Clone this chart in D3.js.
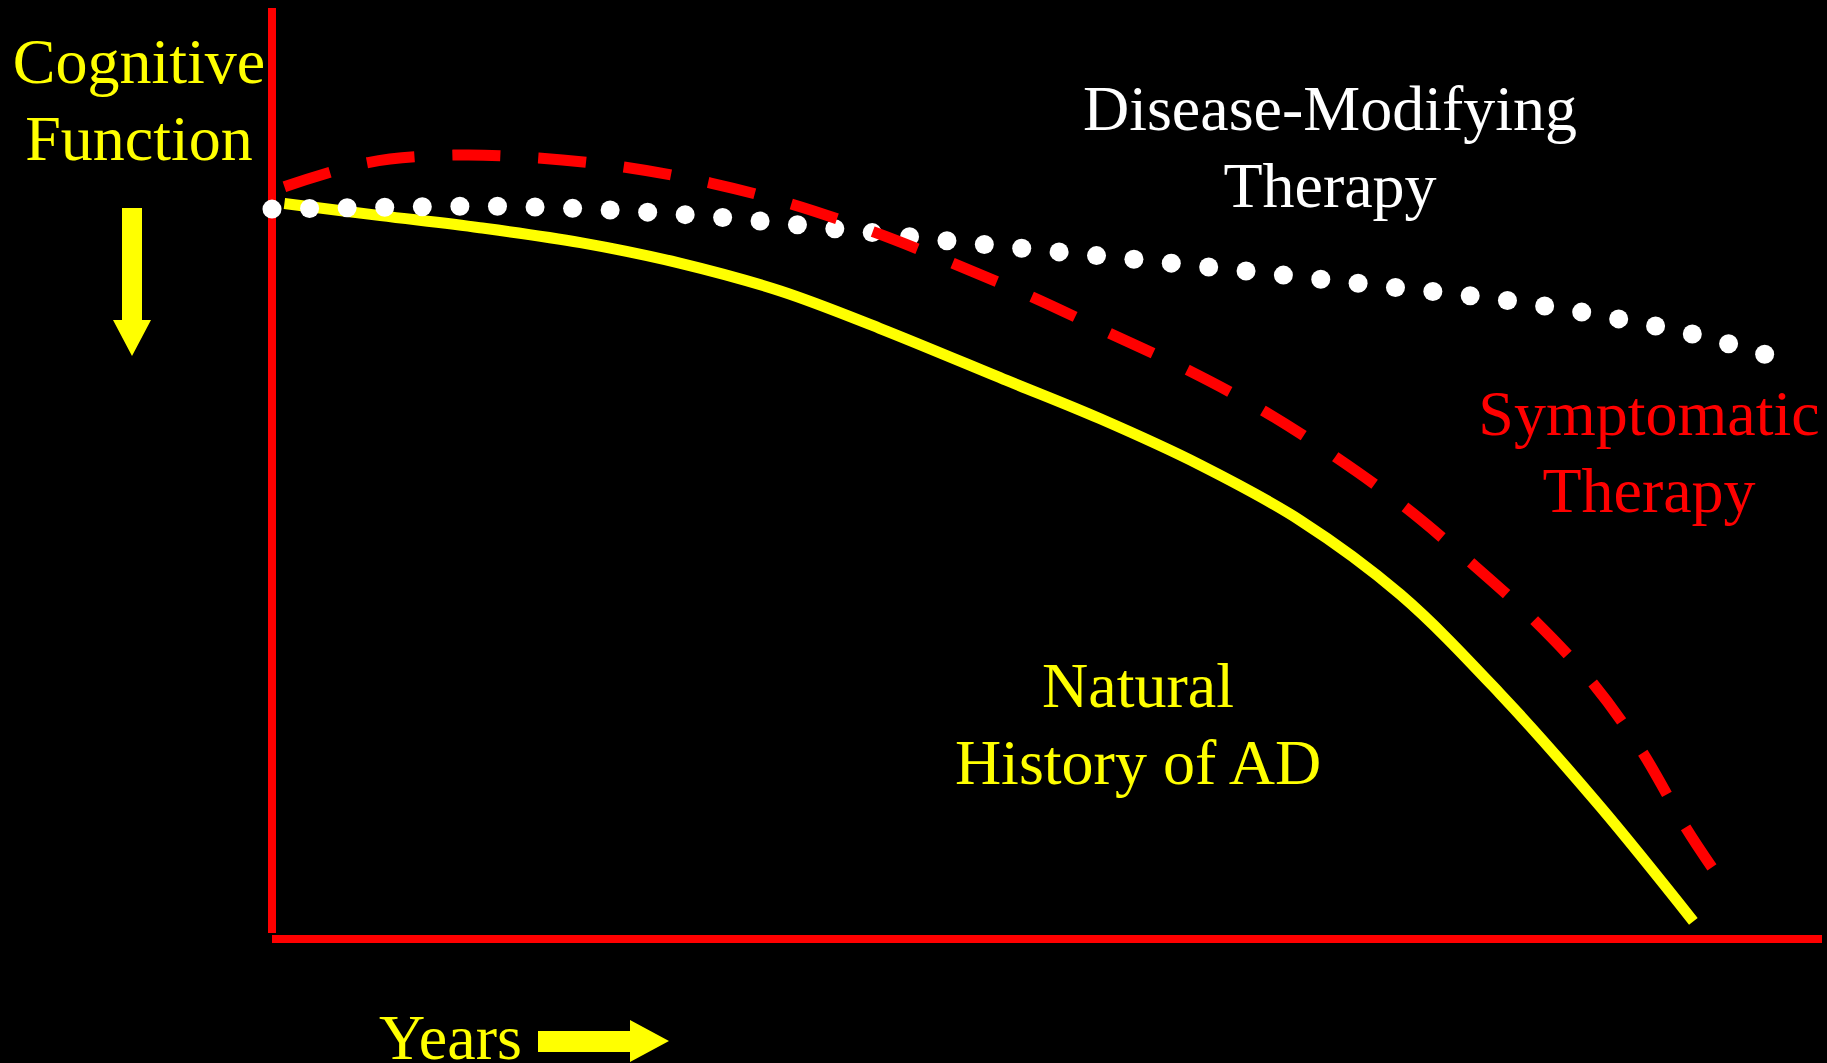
<!DOCTYPE html>
<html>
<head>
<meta charset="utf-8">
<script src="https://cdn.jsdelivr.net/npm/d3@7"></script>
<style>
  html, body { margin: 0; padding: 0; background: #000; overflow: hidden; }
  svg { display: block; }
  text { font-family: "Times New Roman", "Liberation Serif", serif; font-size: 64px; }
</style>
</head>
<body>
<svg width="1827" height="1063"></svg>
<script>
// time axis in arbitrary units (0..100), cognitive function 0..100
var naturalYears = [0.8, 7.0, 13.4, 19.9, 26.3, 32.8, 39.2, 47.4, 53.4, 59.9, 66.3, 72.8, 79.2, 85.7, 91.7];
var naturalScore = [79.0, 77.7, 76.4, 74.8, 72.6, 69.6, 65.6, 60.0, 55.9, 50.9, 45.0, 37.0, 26.4, 14.2, 1.9];

var symptomYears = [0.8, 6.2, 11.7, 17.2, 22.8, 28.3, 33.6, 38.9, 43.9, 49.0, 54.0, 59.1, 63.9, 68.6, 73.1, 77.3, 81.4, 85.2, 88.4, 91.2, 92.9];
var symptomScore = [80.8, 83.4, 84.2, 83.9, 82.9, 81.2, 78.9, 75.9, 72.6, 69.0, 65.1, 61.1, 56.8, 51.8, 46.4, 40.5, 34.3, 27.5, 20.1, 12.0, 7.7];

var modifyYears = [0.0, 7.2, 14.5, 21.8, 29.0, 36.3, 43.6, 50.8, 58.0, 65.3, 72.4, 77.3, 82.1, 86.9, 91.6, 96.3];
var modifyScore = [78.4, 78.6, 78.7, 78.3, 77.5, 76.3, 75.0, 73.8, 72.6, 71.3, 70.0, 69.1, 68.0, 66.6, 65.0, 62.8];
var modifyDots = 41;

var svg = d3.select("svg");
var x = d3.scaleLinear().domain([0, 100]).range([272, 1822]);
var y = d3.scaleLinear().domain([0, 100]).range([939, 8]);

function zip(xs, ys) { return xs.map(function(v, i) { return [v, ys[i]]; }); }

var line = d3.line()
  .x(function(d) { return x(d[0]); })
  .y(function(d) { return y(d[1]); })
  .curve(d3.curveCatmullRom.alpha(0.5));

// axes
svg.append("line")
  .attr("x1", x(0)).attr("x2", x(0))
  .attr("y1", y(100)).attr("y2", y(0) - 6)
  .attr("stroke", "#ff0000").attr("stroke-width", 8);
svg.append("line")
  .attr("x1", x(0)).attr("x2", x(100))
  .attr("y1", y(0)).attr("y2", y(0))
  .attr("stroke", "#ff0000").attr("stroke-width", 8);

// natural history
svg.append("path")
  .attr("d", line(zip(naturalYears, naturalScore)))
  .attr("fill", "none")
  .attr("stroke", "#ffff00")
  .attr("stroke-width", 11);

// disease-modifying: dots spaced evenly along the curve
var guide = svg.append("path")
  .attr("d", line(zip(modifyYears, modifyScore)))
  .attr("fill", "none")
  .attr("stroke", "none");
var len = guide.node().getTotalLength();
svg.append("g").selectAll("circle")
  .data(d3.range(modifyDots))
  .join("circle")
    .attr("cx", function(i) { return guide.node().getPointAtLength(len * i / (modifyDots - 1)).x; })
    .attr("cy", function(i) { return guide.node().getPointAtLength(len * i / (modifyDots - 1)).y; })
    .attr("r", 9.5)
    .attr("fill", "#ffffff");

// symptomatic (dashed), dash at both ends
var dashed = svg.append("path")
  .attr("d", line(zip(symptomYears, symptomScore)))
  .attr("fill", "none")
  .attr("stroke", "#ff0000")
  .attr("stroke-width", 11);
var dLen = dashed.node().getTotalLength();
var dash = 48, nDash = Math.round((dLen + 37) / 85);
var gap = (dLen - nDash * dash) / (nDash - 1);
dashed.attr("stroke-dasharray", dash + " " + gap);

// labels
function label(lines, cx, by, color) {
  var t = svg.append("text")
    .attr("text-anchor", "middle")
    .attr("fill", color);
  lines.forEach(function(s, i) {
    t.append("tspan").attr("x", cx).attr("y", by + i * 77).text(s);
  });
}
label(["Cognitive", "Function"], 139, 83, "#ffff00");
label(["Disease-Modifying", "Therapy"], 1330, 130, "#ffffff");
label(["Symptomatic", "Therapy"], 1649, 435, "#ff0000");
label(["Natural", "History of AD"], 1138, 707, "#ffff00");

svg.append("text")
  .attr("x", 379).attr("y", 1059)
  .attr("fill", "#ffff00")
  .text("Years");

// arrows
svg.append("polygon")
  .attr("points", [[122,208],[142,208],[142,320],[151,320],[132,356],[113,320],[122,320]].join(" "))
  .attr("fill", "#ffff00");
svg.append("polygon")
  .attr("points", [[538,1031],[630,1031],[630,1020],[669,1041],[630,1062],[630,1052],[538,1052]].join(" "))
  .attr("fill", "#ffff00");
</script>
</body>
</html>
